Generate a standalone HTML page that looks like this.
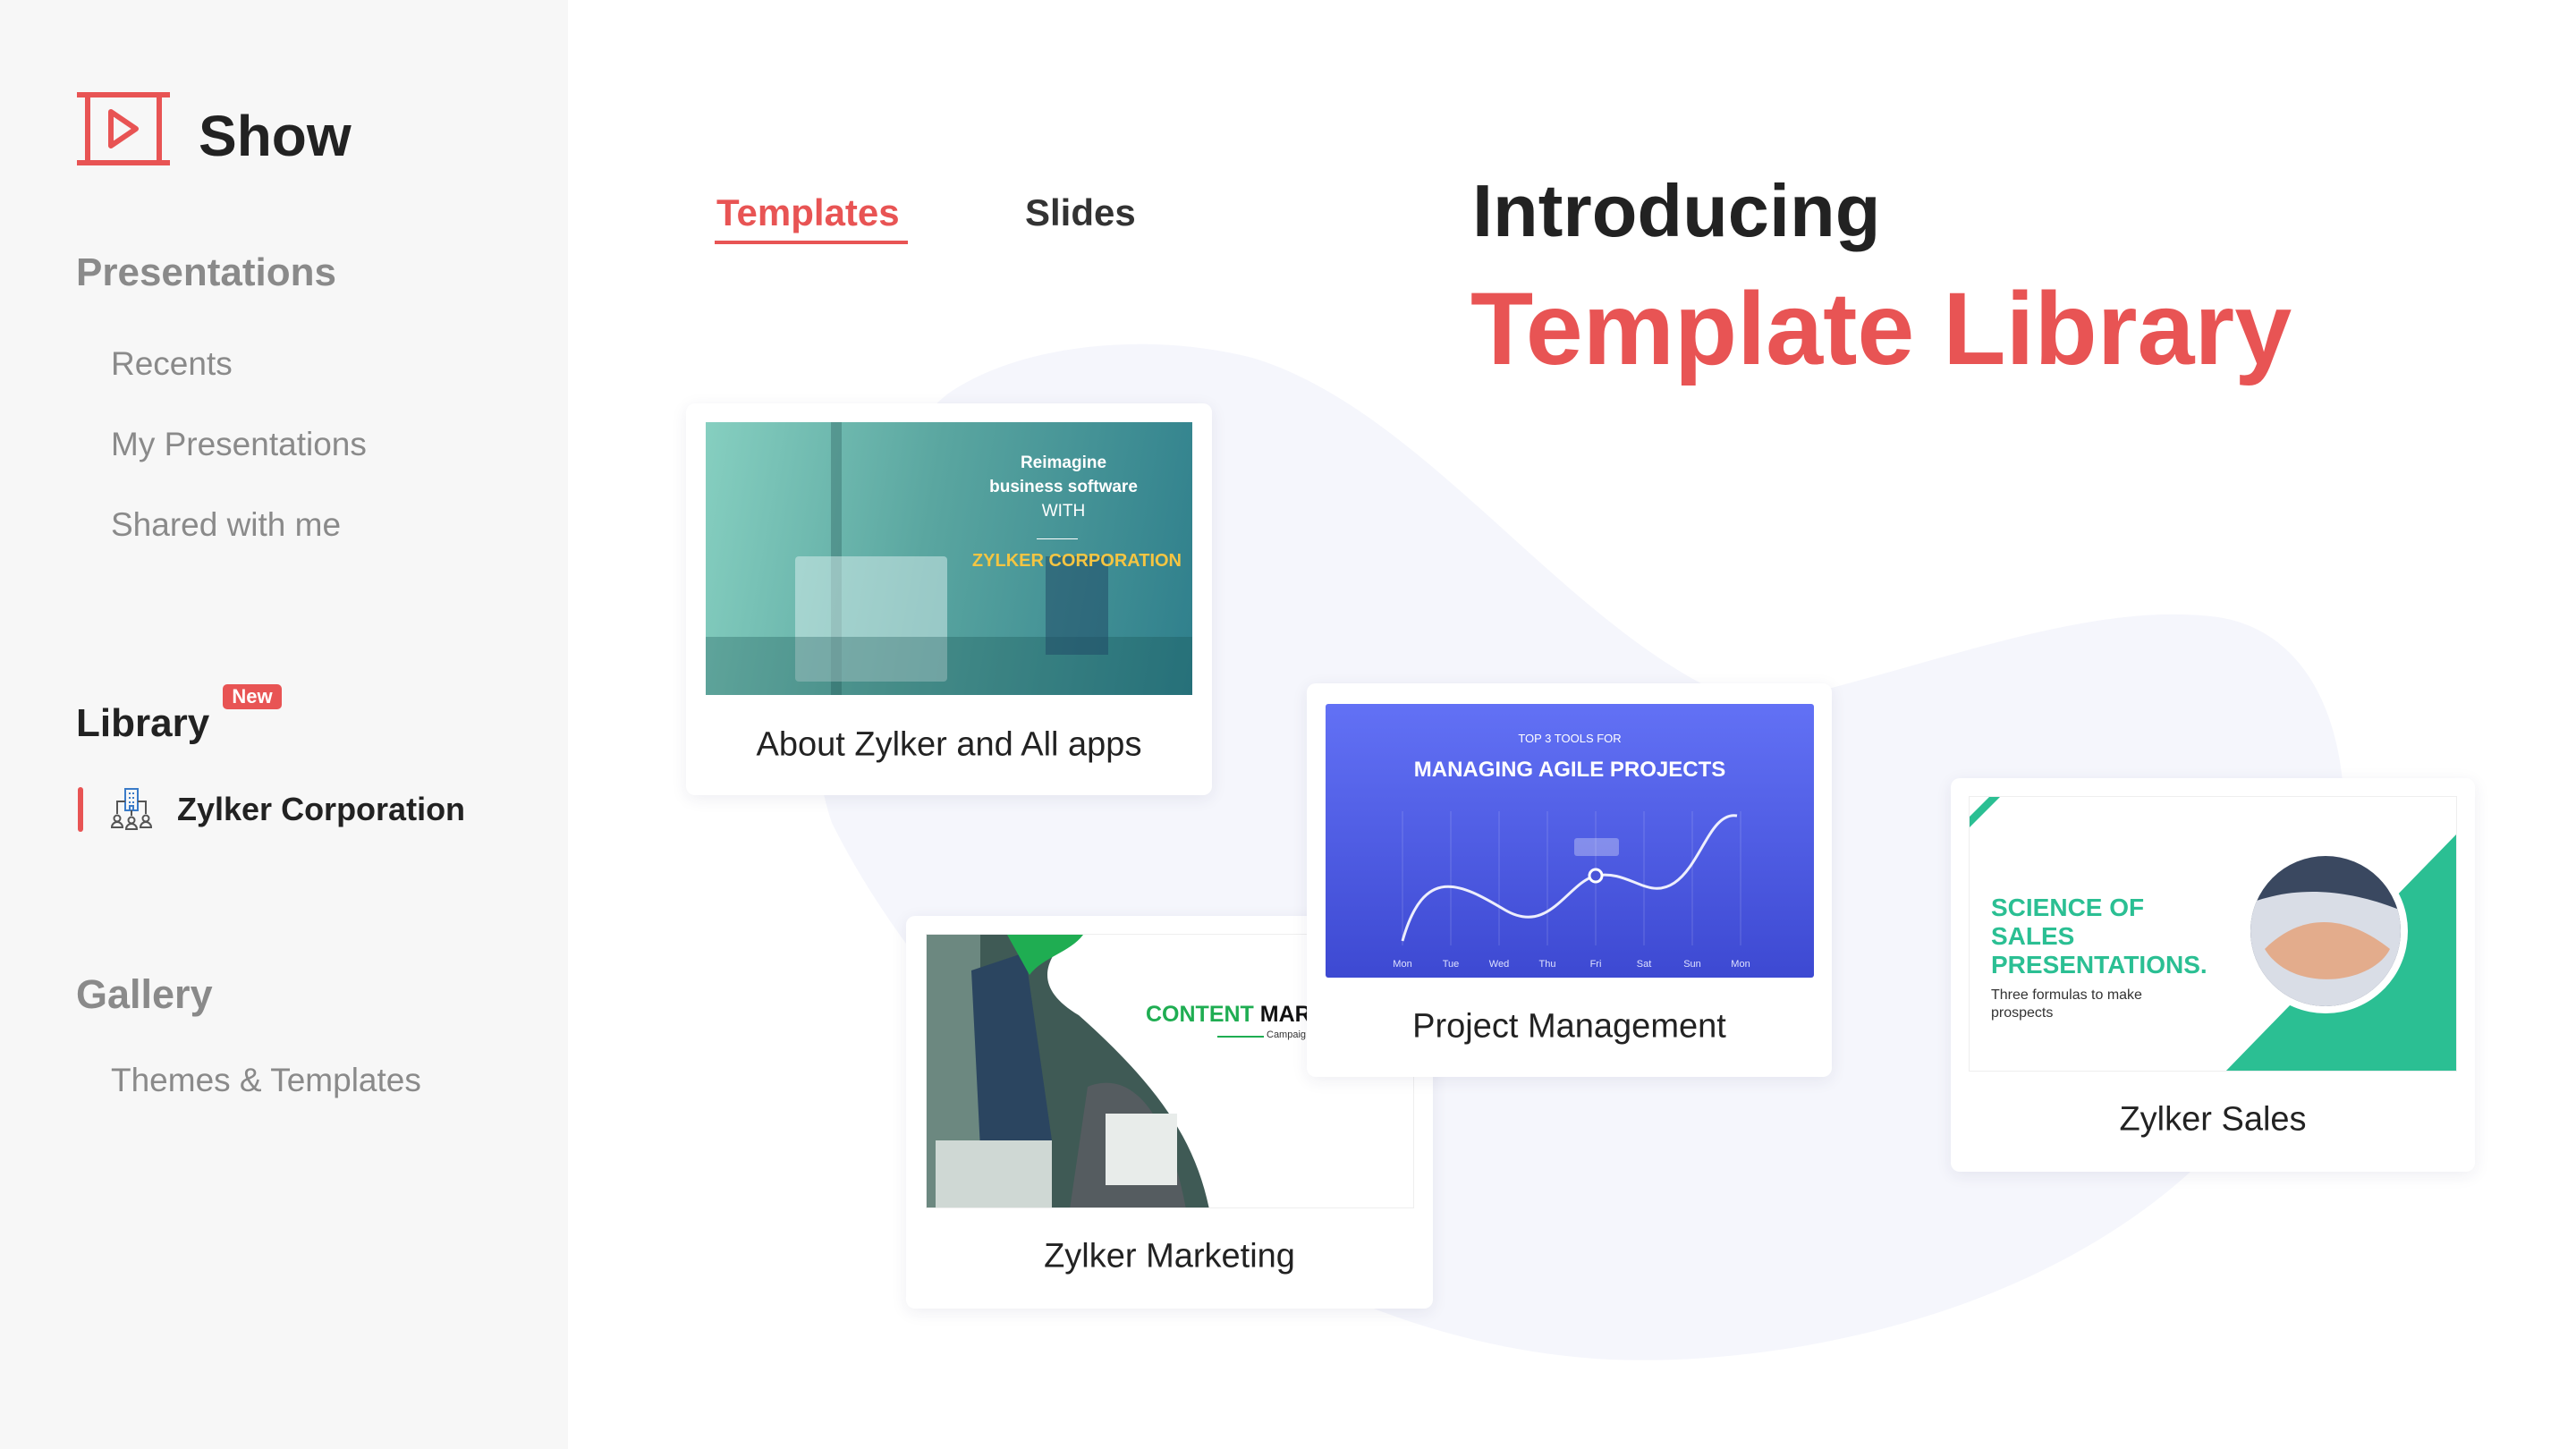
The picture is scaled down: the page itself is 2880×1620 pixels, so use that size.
<!DOCTYPE html>
<html><head><meta charset="utf-8"><style>
*{margin:0;padding:0;box-sizing:border-box}
body{width:2880px;height:1620px;position:relative;overflow:hidden;background:#fff;font-family:"Liberation Sans",sans-serif}
.a{position:absolute;white-space:nowrap}
.side{position:absolute;left:0;top:0;width:635px;height:1620px;background:#f7f7f7}
.card{position:absolute;background:#fff;border-radius:10px;box-shadow:0 4px 18px rgba(40,40,90,.08)}
.ttl{position:absolute;left:0;right:0;text-align:center;font-size:38px;color:#222;transform:translateY(-50%)}
.th{position:absolute;overflow:hidden}
</style></head><body>
<svg class="a" style="left:0;top:0" width="2880" height="1620">
<path d="M1060 440 C1140 385,1280 370,1400 400 C1600 460,1760 720,1960 790 C2150 750,2330 670,2480 690 C2640 715,2660 960,2560 1170 C2420 1430,2060 1530,1800 1520 C1400 1500,1060 1180,930 920 C870 740,960 520,1060 440 Z" fill="#f5f6fc"/>
</svg>
<div class="side"></div>
<!-- logo -->
<svg class="a" style="left:86px;top:103px" width="104" height="82" viewBox="0 0 104 82">
<g fill="none" stroke="#e85454" stroke-width="6"><line x1="0" y1="3" x2="104" y2="3"/><line x1="0" y1="79" x2="104" y2="79"/><line x1="12" y1="3" x2="12" y2="79"/><line x1="92" y1="3" x2="92" y2="79"/><path d="M38 22 L66 41 L38 60 Z" stroke-linejoin="round"/></g>
</svg>
<div class="a" style="left:222px;top:114px;font-size:64px;line-height:76px;color:#222;font-weight:600">Show</div>
<div class="a" style="left:85px;top:279px;font-size:44px;line-height:52px;color:#8a8a8a;font-weight:bold">Presentations</div>
<div class="a" style="left:124px;top:385px;font-size:37px;line-height:44px;color:#8a8a8a">Recents</div>
<div class="a" style="left:124px;top:475px;font-size:37px;line-height:44px;color:#8a8a8a">My Presentations</div>
<div class="a" style="left:124px;top:565px;font-size:37px;line-height:44px;color:#8a8a8a">Shared with me</div>
<div class="a" style="left:85px;top:783px;font-size:44px;line-height:52px;color:#222;font-weight:bold">Library</div>
<div class="a" style="left:249px;top:765px;width:66px;height:28px;border-radius:5px;background:#e85454;color:#fff;font-size:22px;line-height:28px;text-align:center;font-weight:bold">New</div>
<div class="a" style="left:87px;top:880px;width:6px;height:50px;border-radius:3px;background:#e85454"></div>
<svg class="a" style="left:124px;top:880px" width="46" height="48" viewBox="0 0 46 48">
<g fill="none" stroke-width="2"><rect x="16" y="2" width="14" height="24" stroke="#3a7bc8"/><path d="M20 7h2M24 7h2M20 12h2M24 12h2M20 17h2M24 17h2M21 26v-5h4v5" stroke="#3a7bc8"/><path d="M16 16H7v14M30 16h9v14M23 26v6" stroke="#555"/>
<circle cx="7" cy="35" r="3.5" stroke="#555"/><path d="M1 45a6 6 0 0 1 12 0z" stroke="#555"/><circle cx="23" cy="37" r="3.5" stroke="#555"/><path d="M17 47a6 6 0 0 1 12 0z" stroke="#555"/><circle cx="39" cy="35" r="3.5" stroke="#555"/><path d="M33 45a6 6 0 0 1 12 0z" stroke="#555"/></g></svg>
<div class="a" style="left:198px;top:883px;font-size:36px;line-height:44px;color:#222;font-weight:bold">Zylker Corporation</div>
<div class="a" style="left:85px;top:1086px;font-size:45px;line-height:52px;color:#8a8a8a;font-weight:bold">Gallery</div>
<div class="a" style="left:124px;top:1186px;font-size:37px;line-height:44px;color:#8a8a8a">Themes &amp; Templates</div>
<!-- tabs -->
<div class="a" style="left:801px;top:213px;font-size:42px;line-height:50px;color:#e85454;font-weight:bold">Templates</div>
<div class="a" style="left:799px;top:269px;width:216px;height:4px;background:#e85454"></div>
<div class="a" style="left:1146px;top:213px;font-size:42px;line-height:50px;color:#333;font-weight:bold">Slides</div>
<!-- heading -->
<div class="a" style="left:1646px;top:186px;font-size:83px;line-height:100px;color:#222;font-weight:bold">Introducing</div>
<div class="a" style="left:1644px;top:300px;font-size:115px;line-height:136px;color:#e85454;font-weight:bold">Template Library</div>
<!-- card 1 -->
<div class="card" style="left:767px;top:451px;width:588px;height:438px">
 <div class="th" style="left:22px;top:21px;width:544px;height:305px;background:linear-gradient(100deg,#86cfc0 0%,#5aa6a0 45%,#2f7f8c 100%)">
  <div style="position:absolute;left:140px;top:0;width:12px;height:305px;background:rgba(40,90,90,.35)"></div>
  <div style="position:absolute;left:100px;top:150px;width:170px;height:140px;background:rgba(220,240,240,.5);border-radius:4px"></div>
  <div style="position:absolute;left:0;top:240px;width:544px;height:65px;background:rgba(20,80,80,.3)"></div>
  <div style="position:absolute;left:380px;top:150px;width:70px;height:110px;background:rgba(30,70,100,.5)"></div>
  <div style="position:absolute;right:14px;top:32px;width:260px;text-align:center;color:#fff;font-size:19px;line-height:27px;font-weight:bold">Reimagine<br>business software<br><span style="font-weight:normal">WITH</span></div>
  <div style="position:absolute;left:370px;top:130px;width:46px;height:1px;background:#fff"></div>
  <div style="position:absolute;right:12px;top:144px;color:#f5c542;font-size:20px;font-weight:bold">ZYLKER CORPORATION</div>
 </div>
 <div class="ttl" style="top:382px">About Zylker and All apps</div>
</div>
<!-- card marketing -->
<div class="card" style="left:1013px;top:1024px;width:589px;height:439px">
 <div class="th" style="left:22px;top:20px;width:546px;height:307px;background:#fff;border:1px solid #eee">
  <svg width="546" height="307" style="position:absolute;left:0;top:0">
   <path d="M0 0 H160 C130 30,120 60,170 90 C260 170,300 230,316 307 H0 Z" fill="#3f5a55"/>
   <rect x="0" y="0" width="60" height="307" fill="#8aa79d" opacity=".6"/>
   <path d="M50 40 L110 20 L140 230 L60 240Z" fill="#2b4560"/>
   <path d="M180 170 C230 150,270 200,290 307 H160Z" fill="#555c60"/>
   <rect x="10" y="230" width="130" height="77" fill="#cfd8d4"/>
   <rect x="200" y="200" width="80" height="80" fill="#e8ecea"/>
   <path d="M90 0 H175 C160 20,130 25,115 45 Z" fill="#1fad52"/>
  </svg>
  <div style="position:absolute;left:245px;top:75px;font-size:25px;font-weight:bold;color:#1fad52">CONTENT <span style="color:#111">MAR</span></div>
  <div style="position:absolute;left:325px;top:113px;width:52px;height:2px;background:#1fad52"></div>
  <div style="position:absolute;left:380px;top:106px;font-size:11px;color:#333">Campaig</div>
 </div>
 <div class="ttl" style="top:381px">Zylker Marketing</div>
</div>
<!-- card PM -->
<div class="card" style="left:1461px;top:764px;width:587px;height:440px">
 <div class="th" style="left:21px;top:23px;width:546px;height:306px;background:linear-gradient(180deg,#6271f5 0%,#3d49d2 100%);border-radius:3px">
  <div style="position:absolute;left:0;right:0;top:31px;text-align:center;color:#fff;font-size:13px">TOP 3 TOOLS FOR</div>
  <div style="position:absolute;left:0;right:0;top:60px;text-align:center;color:#fff;font-size:24px;font-weight:bold">MANAGING AGILE PROJECTS</div>
  <svg width="546" height="306" style="position:absolute;left:0;top:0">
   <g stroke="rgba(255,255,255,.18)" stroke-width="1"><line x1="86" y1="120" x2="86" y2="270"/><line x1="140" y1="120" x2="140" y2="270"/><line x1="194" y1="120" x2="194" y2="270"/><line x1="248" y1="120" x2="248" y2="270"/><line x1="302" y1="120" x2="302" y2="270"/><line x1="356" y1="120" x2="356" y2="270"/><line x1="410" y1="120" x2="410" y2="270"/><line x1="464" y1="120" x2="464" y2="270"/></g>
   <path d="M86 265 C110 180,150 200,200 230 C250 260,270 200,302 192 C340 185,360 220,390 200 C420 180,430 120,460 125" fill="none" stroke="#fff" stroke-width="3" opacity=".9"/>
   <circle cx="302" cy="192" r="7" fill="#4a55d8" stroke="#fff" stroke-width="3"/>
   <rect x="278" y="150" width="50" height="20" rx="3" fill="rgba(255,255,255,.3)"/>
   <g fill="#dfe2ff" font-size="11" font-family="Liberation Sans" text-anchor="middle"><text x="86" y="294">Mon</text><text x="140" y="294">Tue</text><text x="194" y="294">Wed</text><text x="248" y="294">Thu</text><text x="302" y="294">Fri</text><text x="356" y="294">Sat</text><text x="410" y="294">Sun</text><text x="464" y="294">Mon</text></g>
  </svg>
 </div>
 <div class="ttl" style="top:384px">Project Management</div>
</div>
<!-- card sales -->
<div class="card" style="left:2181px;top:870px;width:586px;height:440px">
 <div class="th" style="left:20px;top:20px;width:546px;height:308px;background:#fff;border:1px solid #eee">
  <svg width="546" height="308" style="position:absolute;left:0;top:0">
   <defs><clipPath id="c"><circle cx="398" cy="150" r="84"/></clipPath></defs>
   <path d="M546 40 V308 H285 Z" fill="#2bbf93"/>
   <path d="M0 22 L22 0 H34 L0 34 Z" fill="#2bbf93"/>
   <path d="M546 10 L268 308" stroke="#fff" stroke-width="10"/>
   <circle cx="398" cy="150" r="92" fill="#fff"/>
   <g clip-path="url(#c)">
    <rect x="300" y="60" width="200" height="200" fill="#3a4860"/>
    <path d="M310 120 C360 100,420 100,490 130 L490 250 L310 250Z" fill="#d9dde6"/>
    <path d="M330 170 C370 130,420 130,470 170 C450 210,360 220,330 170Z" fill="#e3ac8c"/>
   </g>
  </svg>
  <div style="position:absolute;left:24px;top:108px;font-size:28px;line-height:32px;font-weight:bold;color:#2bbf93">SCIENCE OF<br>SALES<br>PRESENTATIONS.</div>
  <div style="position:absolute;left:24px;top:212px;font-size:16px;line-height:20px;color:#333">Three formulas to make<br>prospects</div>
 </div>
 <div class="ttl" style="top:382px">Zylker Sales</div>
</div>
</body></html>
